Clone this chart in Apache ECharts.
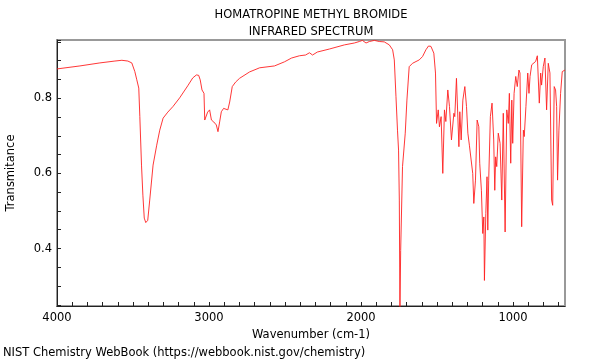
<!DOCTYPE html>
<html>
<head>
<meta charset="utf-8">
<script src="https://cdn.jsdelivr.net/npm/echarts@6/dist/echarts.min.js"></script>
<style>html,body{margin:0;padding:0;background:#fff}#c{width:600px;height:360px}</style>
</head>
<body>
<div id="c"></div>
<script>
const titleLines = ["HOMATROPINE METHYL BROMIDE", "INFRARED SPECTRUM"];
const xAxisTitle = "Wavenumber (cm-1)";
const yAxisTitle = "Transmitance";
const footer = "NIST Chemistry WebBook (https://webbook.nist.gov/chemistry)";
const xLabelValues = [4000, 3000, 2000, 1000];
const yLabelValues = [0.4, 0.6, 0.8];

const wavenumbers = [4000,3849,3718,3619,3573,3534,3508,3488,3475,3462,
3455,3444,3435,3426,3416,3403,3390,3368,3344,3324,
3302,3271,3237,3193,3140,3107,3083,3068,3058,3046,
3033,3028,3017,3009,2996,2984,2969,2952,2941,2930,
2919,2904,2876,2864,2847,2825,2799,2733,2667,2569,
2503,2457,2405,2365,2339,2319,2287,2208,2109,2044,
2011,1991,1967,1945,1912,1880,1847,1814,1792,1781,
1770,1760,1753,1748,1744,1739,1727,1709,1698,1683,
1661,1617,1595,1573,1556,1540,1530,1521,1510,1503,
1492,1484,1473,1462,1451,1442,1429,1418,1405,1389,
1383,1372,1363,1356,1350,1341,1330,1317,1306,1297,
1287,1276,1265,1258,1247,1236,1225,1219,1208,1199,
1192,1188,1179,1171,1166,1160,1149,1138,1127,1120,
1114,1107,1097,1085,1074,1064,1052,1041,1031,1024,
1015,1008,1002,993,982,972,961,954,943,932,
926,915,903,895,888,877,867,851,840,834,
827,818,812,801,790,779,768,757,746,739,
729,720,713,707,698,687,676,665,658];

const transmittance = [0.878,0.886,0.894,0.899,0.901,0.899,0.894,0.871,0.849,0.827,
0.751,0.622,0.542,0.481,0.469,0.475,0.529,0.622,0.675,0.715,
0.747,0.763,0.778,0.801,0.833,0.854,0.862,0.861,0.849,0.822,
0.813,0.742,0.747,0.763,0.769,0.742,0.737,0.729,0.711,0.737,
0.764,0.773,0.769,0.790,0.831,0.843,0.853,0.870,0.881,0.886,
0.897,0.907,0.913,0.915,0.921,0.915,0.923,0.931,0.942,0.947,
0.951,0.954,0.947,0.951,0.954,0.951,0.950,0.942,0.929,0.902,
0.804,0.715,0.662,0.529,0.23,0.395,0.618,0.707,0.795,0.884,
0.893,0.902,0.911,0.929,0.939,0.938,0.939,0.920,0.867,0.733,
0.769,0.724,0.751,0.600,0.769,0.738,0.822,0.778,0.689,0.760,
0.751,0.853,0.849,0.671,0.764,0.689,0.795,0.831,0.778,0.707,
0.675,0.678,0.600,0.520,0.582,0.742,0.724,0.627,0.555,0.440,
0.484,0.315,0.493,0.591,0.449,0.582,0.751,0.787,0.689,0.555,
0.644,0.618,0.707,0.680,0.529,0.760,0.444,0.769,0.733,0.813,
0.627,0.795,0.680,0.813,0.858,0.831,0.875,0.867,0.458,0.715,
0.698,0.778,0.867,0.813,0.858,0.889,0.884,0.898,0.913,0.911,
0.787,0.867,0.835,0.884,0.907,0.769,0.893,0.867,0.529,0.515,
0.831,0.822,0.778,0.582,0.715,0.813,0.871,0.871,0.875];

const FONT = 'DejaVu Sans';
const FS = 11.5;
const chart = echarts.init(document.getElementById('c'), null, {renderer: 'canvas'});
const near = (v, list) => list.some(t => Math.abs(v - t) < 1e-6);

chart.setOption({
  animation: false,
  backgroundColor: '#fff',
  textStyle: {fontFamily: FONT},
  title: {
    text: titleLines.join('\n'),
    left: 311, top: 6, padding: 0, textAlign: 'center',
    textStyle: {fontFamily: FONT, fontSize: FS, fontWeight: 'normal', color: '#000', lineHeight: 17.5}
  },
  grid: {left: 57, right: 35, top: 40, bottom: 54, show: true, borderColor: '#999', borderWidth: 2,
    containLabel: false, outerBoundsMode: 'none'},
  xAxis: {
    type: 'value', inverse: true, min: 658, max: 4000,
    minInterval: 100, maxInterval: 100,
    name: xAxisTitle, nameLocation: 'middle', nameGap: 16,
    nameTextStyle: {fontFamily: FONT, fontSize: FS, color: '#000'},
    axisLine: {show: true, lineStyle: {color: '#222', width: 1}},
    axisTick: {show: true, inside: true, length: 4, lineStyle: {color: '#222'}},
    axisLabel: {show: true, margin: 6, fontFamily: FONT, fontSize: FS, color: '#000',
      showMinLabel: false, showMaxLabel: true,
      formatter: v => near(v, xLabelValues) ? String(Math.round(v)) : ''},
    splitLine: {show: false}
  },
  yAxis: {
    type: 'value', min: 0.247, max: 0.955,
    minInterval: 0.05, maxInterval: 0.05,
    name: yAxisTitle, nameLocation: 'middle', nameGap: 40, nameRotate: 90,
    nameTextStyle: {fontFamily: FONT, fontSize: FS, color: '#000'},
    axisLine: {show: true, lineStyle: {color: '#222', width: 1}},
    axisTick: {show: true, inside: true, length: 4, lineStyle: {color: '#222'}},
    axisLabel: {show: true, margin: 5, fontFamily: FONT, fontSize: FS, color: '#000',
      formatter: v => near(v, yLabelValues) ? v.toFixed(1) : ''},
    splitLine: {show: false}
  },
  graphic: [{
    type: 'text', left: 3, top: 347,
    style: {text: footer, font: FS + 'px "DejaVu Sans"', fill: '#000'}
  }],
  series: [{
    type: 'line', showSymbol: false, symbol: 'none',
    data: wavenumbers.map((w, i) => [w, transmittance[i]]),
    lineStyle: {color: '#ff2020', width: 0.9},
    clip: true
  }]
});
</script>
</body>
</html>
